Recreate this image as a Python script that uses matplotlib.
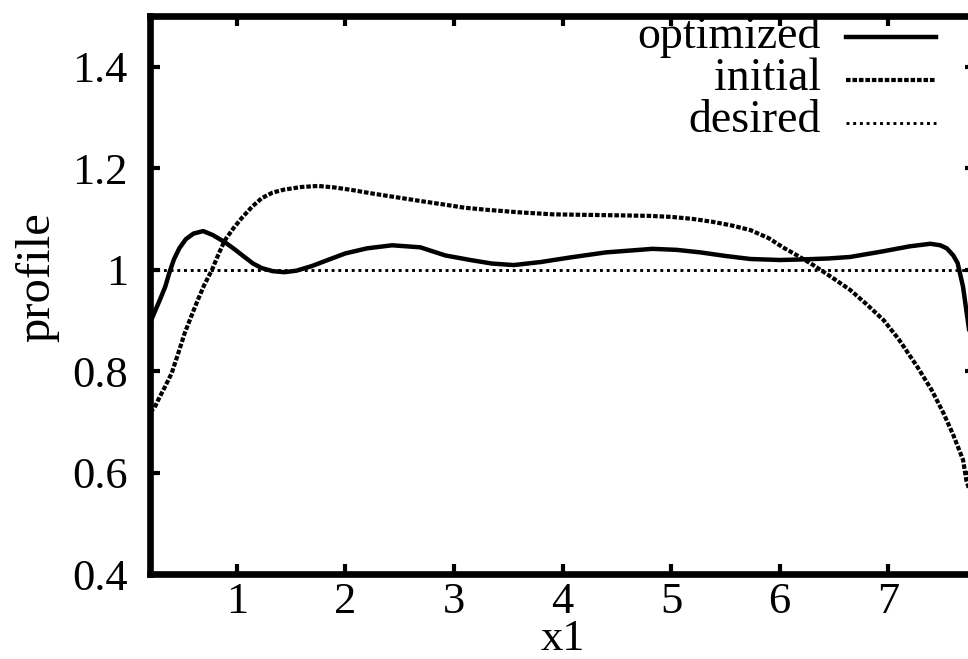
import matplotlib
matplotlib.use("Agg")
import matplotlib.pyplot as plt

plt.rcParams['font.family'] = ['Liberation Serif', 'DejaVu Serif']

# ---- data ----
x_opt = [0.2, 0.24, 0.29, 0.34, 0.38, 0.42, 0.47, 0.53, 0.6, 0.69, 0.78, 0.89, 0.98,
         1.07, 1.15, 1.23, 1.33, 1.44, 1.55, 1.69, 1.85, 2.0, 2.2, 2.43, 2.69, 2.92,
         3.15, 3.35, 3.55, 3.8, 4.07, 4.4, 4.83, 5.05, 5.27, 5.5, 5.73, 6.0, 6.19,
         6.45, 6.65, 6.95, 7.2, 7.39, 7.48, 7.54, 7.6, 7.64, 7.69, 7.72, 7.76, 7.8]
y_opt = [0.895, 0.915, 0.94, 0.966, 0.995, 1.02, 1.042, 1.06, 1.071, 1.076, 1.068,
         1.054, 1.04, 1.025, 1.012, 1.003, 0.997, 0.995, 0.998, 1.007, 1.02, 1.032,
         1.042, 1.048, 1.044, 1.028, 1.019, 1.012, 1.009, 1.015, 1.024, 1.034, 1.041,
         1.039, 1.034, 1.027, 1.021, 1.019, 1.02, 1.022, 1.025, 1.036, 1.046, 1.051,
         1.048, 1.042, 1.028, 1.013, 0.966, 0.92, 0.86, 0.80]

x_init = [0.2, 0.24, 0.28, 0.34, 0.40, 0.46, 0.52, 0.58, 0.64, 0.70, 0.77, 0.83, 0.89,
          0.97, 1.05, 1.14, 1.23, 1.33, 1.44, 1.6, 1.75, 1.9, 2.06, 2.25, 2.46, 2.7,
          2.92, 3.1, 3.3, 3.6, 3.91, 4.2, 4.53, 4.8, 5.0, 5.2, 5.39, 5.56, 5.73, 5.9,
          6.03, 6.17, 6.31, 6.48, 6.65, 6.8, 6.96, 7.1, 7.27, 7.4, 7.51, 7.6, 7.69,
          7.72, 7.8]
y_init = [0.72, 0.727, 0.745, 0.77, 0.796, 0.835, 0.875, 0.908, 0.94, 0.97, 0.999,
          1.03, 1.058, 1.082, 1.103, 1.124, 1.141, 1.152, 1.158, 1.163, 1.165, 1.162,
          1.157, 1.150, 1.143, 1.135, 1.128, 1.122, 1.118, 1.113, 1.109, 1.108, 1.107,
          1.106, 1.104, 1.100, 1.094, 1.087, 1.078, 1.062, 1.044, 1.027, 1.009, 0.985,
          0.960, 0.932, 0.900, 0.862, 0.808, 0.763, 0.717, 0.674, 0.625, 0.585, 0.53]

x_des = [0.2, 7.8]
y_des = [1.0, 1.0]

labels = ['optimized', 'initial', 'desired']
xticks = [1, 2, 3, 4, 5, 6, 7]
xtick_labels = ['1', '2', '3', '4', '5', '6', '7']
yticks = [0.4, 0.6, 0.8, 1.0, 1.2, 1.4]
ytick_labels = ['0.4', '0.6', '0.8', '1', '1.2', '1.4']

# ---- figure ----
W, H = 968, 659
fig = plt.figure(figsize=(W / 100, H / 100), dpi=100)
ax = fig.add_axes([150 / W, (H - 574) / H, 825 / W, 558 / H])

styles = [
    dict(color='black', lw=3.2, ls='-', solid_joinstyle='round'),
    dict(color='black', lw=3.0, ls=(0, (1.1, 0.45)), dash_capstyle='butt'),
    dict(color='black', lw=2.1, ls=(0, (1.0, 1.3)), dash_capstyle='butt'),
]
series = [(x_opt, y_opt), (x_init, y_init), (x_des, y_des)]
for (xs, ys), st in zip(series, styles):
    ax.plot(xs, ys, **st)

ax.set_xlim(0.2, 7.8)
ax.set_ylim(0.4, 1.5)
ax.set_xticks(xticks)
ax.set_xticklabels(xtick_labels)
ax.set_yticks(yticks)
ax.set_yticklabels(ytick_labels)

fs = 32
ax.tick_params(direction='in', length=7, width=3, top=True, right=True,
               labelsize=fs)
ax.tick_params(axis='y', pad=16)
ax.tick_params(axis='x', pad=6)
for sp in ax.spines.values():
    sp.set_linewidth(4.8)

ax.set_xlabel('x1', fontsize=fs)
ax.xaxis.set_label_coords(0.5, -0.117)
ax.xaxis.label.set_va('center')
ax.set_ylabel('profile', fontsize=35)
ax.yaxis.set_label_coords(-0.137, 0.532)
ax.yaxis.label.set_va('center')

# gnuplot-style key: right-aligned text followed by a line sample
rows_line = [0.9624, 0.8853, 0.8082]
rows_base = [0.9427, 0.8674, 0.7921]
for lab, st, ry, rb in zip(labels, styles, rows_line, rows_base):
    ax.text(0.813, rb, lab, ha='right', va='baseline', fontsize=33,
            transform=ax.transAxes)
    ax.plot([0.8436, 0.953], [ry, ry], transform=ax.transAxes,
            clip_on=False, **st)

fig.savefig('out.png', dpi=100)
